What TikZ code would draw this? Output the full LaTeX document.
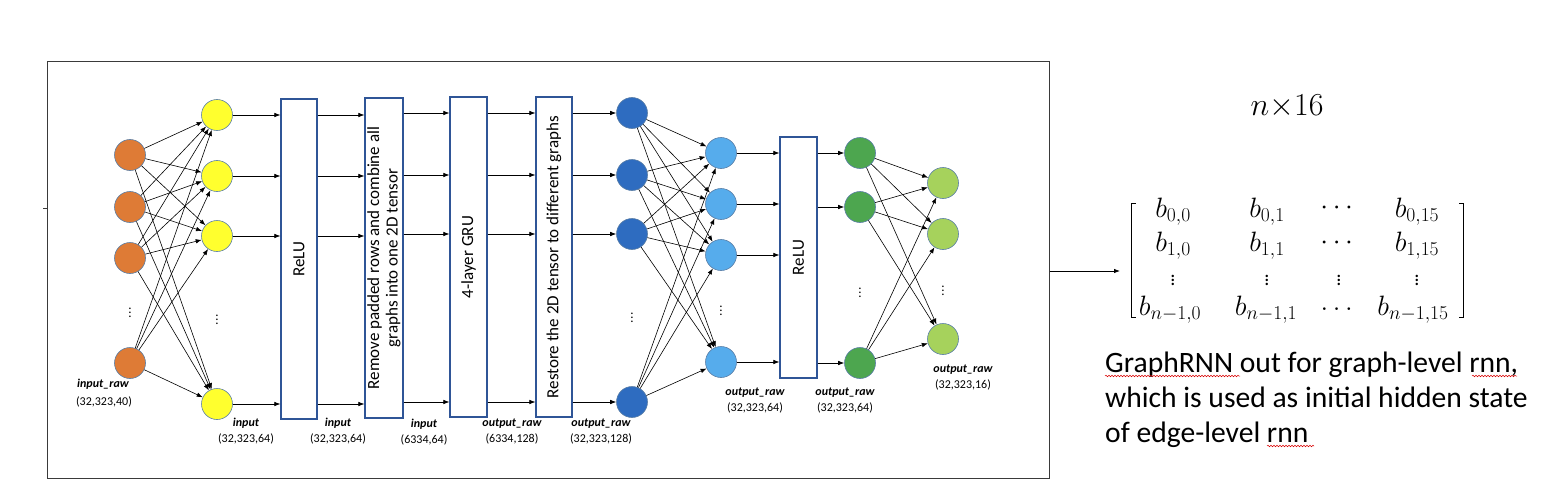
\RequirePackage{fix-cm}
\documentclass[tikz,border=0pt]{standalone}
\usepackage{fontspec}
\setmainfont{Carlito}
\usepackage{amsmath}
\usetikzlibrary{arrows.meta,decorations.pathmorphing}
\definecolor{corange}{HTML}{DE7B36}
\definecolor{cyellow}{HTML}{FFFF2E}
\definecolor{cdblue}{HTML}{2E6CC0}
\definecolor{clblue}{HTML}{56ACEC}
\definecolor{cgreen}{HTML}{4DA64F}
\definecolor{clgreen}{HTML}{A6D25C}
\definecolor{nborder}{HTML}{5A7EA6}
\definecolor{boxblue}{HTML}{2F5597}
\definecolor{framegray}{HTML}{3A3A3A}
\tikzset{
  neuron/.style={circle, minimum size=31pt, inner sep=0pt, draw=nborder, line width=0.6pt},
  layerbox/.style={draw=boxblue, line width=1.3pt, fill=white, inner sep=0pt, minimum width=36pt},
  conn/.style={-{Latex[length=6pt,width=4.5pt]}, line width=0.6pt, black},
  vdots/.style={inner sep=0pt, font=\fontsize{13}{13}\selectfont},
  lblname/.style={inner sep=0pt, font=\fontsize{12}{14}\selectfont\bfseries\itshape},
  lbldim/.style={inner sep=0pt, font=\fontsize{12}{14}\selectfont},
  boxtext/.style={rotate=90, align=center, font=\fontsize{17}{18.5}\selectfont},
  entry/.style={inner sep=0pt, font=\fontsize{28}{30}\selectfont},
  mdots/.style={inner sep=0pt, font=\fontsize{20}{22}\selectfont},
  bigtext/.style={inner sep=0pt, anchor=base west, font=\fontsize{29.6}{35}\selectfont},
  squiggle/.style={red!85!black, line width=0.5pt, decorate, decoration={snake, amplitude=0.8pt, segment length=3pt}}
}
\begin{document}
\begin{tikzpicture}[x=1pt,y=-1pt]
\useasboundingbox (0,0) rectangle (1548,503);
% frame
\node (frame) [draw=framegray, line width=1pt, minimum width=1002pt, minimum height=416pt, inner sep=0pt] at (548,270) {};
\draw[framegray, line width=1pt] (frame.west |- 0,208) -- ++(-4,0);

% orange input nodes
\node[neuron, fill=corange] (o1) at (130,155) {};
\node[neuron, fill=corange] (o2) at (130,207) {};
\node[neuron, fill=corange] (o3) at (130,258) {};
\node[vdots] (od) at (130,310) {$\vdots$};
\node[neuron, fill=corange] (o4) at (130,363) {};
% yellow
\node[neuron, fill=cyellow] (y1) at (217,115) {};
\node[neuron, fill=cyellow] (y2) at (217,176) {};
\node[neuron, fill=cyellow] (y3) at (217,236) {};
\node[vdots] (yd) at (217,317) {$\vdots$};
\node[neuron, fill=cyellow] (y4) at (217,404) {};
\foreach \a in {o1,o2,o3,o4}
  \foreach \b in {y1,y2,y3,y4}
    \draw[conn] (\a) -- (\b);

% boxes
\node[layerbox, minimum height=320pt] (box1) at (299,259) {};
\node[boxtext] at (box1) {ReLU};
\node[layerbox, minimum width=38pt, minimum height=320pt] (box2) at (384,258) {};
\node[boxtext] at (box2) {Remove padded rows and combine all\\graphs into one 2D tensor};
\node[layerbox, minimum width=37pt, minimum height=320pt] (box3) at (468.5,257) {};
\node[boxtext] at (box3) {4-layer GRU};
\node[layerbox, minimum height=320pt] (box4) at (554,257) {};
\node[boxtext] at (box4) {Restore the 2D tensor to different graphs};

% dark blue
\node[neuron, fill=cdblue] (b1) at (632,113) {};
\node[neuron, fill=cdblue] (b2) at (632,175) {};
\node[neuron, fill=cdblue] (b3) at (632,234) {};
\node[vdots] (bd) at (632,315) {$\vdots$};
\node[neuron, fill=cdblue] (b4) at (632,402) {};

\foreach \r in {y1,y2,y3,y4} {
  \draw[conn] (\r) -- (\r -| box1.west);
  \draw[conn] (\r -| box1.east) -- (\r -| box2.west);
}
\foreach \r in {b1,b2,b3,b4} {
  \draw[conn] (\r -| box2.east) -- (\r -| box3.west);
  \draw[conn] (\r -| box3.east) -- (\r -| box4.west);
  \draw[conn] (\r -| box4.east) -- (\r);
}

% light blue
\node[neuron, fill=clblue] (l1) at (721,153) {};
\node[neuron, fill=clblue] (l2) at (721,204) {};
\node[neuron, fill=clblue] (l3) at (721,255) {};
\node[vdots] (ld) at (721,308) {$\vdots$};
\node[neuron, fill=clblue] (l4) at (721,362) {};
\foreach \a in {b1,b2,b3,b4}
  \foreach \b in {l1,l2,l3,l4}
    \draw[conn] (\a) -- (\b);

% relu 2
\node[layerbox, minimum width=37pt, minimum height=241pt] (box5) at (798.5,257.5) {};
\node[boxtext] at (box5) {ReLU};
\foreach \r in {l1,l2,l3,l4}
  \draw[conn] (\r) -- (\r -| box5.west);

% green
\node[neuron, fill=cgreen] (g1) at (860,153) {};
\node[neuron, fill=cgreen] (g2) at (860,207) {};
\node[vdots] (gd) at (860,290) {$\vdots$};
\node[neuron, fill=cgreen] (g3) at (860,363) {};
\foreach \r in {g1,g2,g3}
  \draw[conn] (\r -| box5.east) -- (\r);

% light green
\node[neuron, fill=clgreen] (h1) at (943,183) {};
\node[neuron, fill=clgreen] (h2) at (943,234) {};
\node[vdots] (hd) at (943,288) {$\vdots$};
\node[neuron, fill=clgreen] (h3) at (943,339) {};
\foreach \a in {g1,g2,g3}
  \foreach \b in {h1,h2,h3}
    \draw[conn] (\a) -- (\b);

% labels
\node[lblname] (n1) at (103,384) {input\_raw};
\node[lbldim] (d1) at (104,402) {(32,323,40)};
\node[lblname] (n2) at (246,423) {input};
\node[lbldim] (d2) at (246,439) {(32,323,64)};
\node[lblname] (n3) at (338,423) {input};
\node[lbldim] (d3) at (338,439) {(32,323,64)};
\node[lblname] (n4) at (424,424) {input};
\node[lbldim] (d4) at (424,440) {(6334,64)};
\node[lblname] (n5) at (512,424) {output\_raw};
\node[lbldim] (d5) at (512,439) {(6334,128)};
\node[lblname] (n6) at (601,424) {output\_raw};
\node[lbldim] (d6) at (601,439) {(32,323,128)};
\node[lblname] (n7) at (755,393) {output\_raw};
\node[lbldim] (d7) at (755,408) {(32,323,64)};
\node[lblname] (n8) at (845,393) {output\_raw};
\node[lbldim] (d8) at (845,408) {(32,323,64)};
\node[lblname] (n9) at (963,370) {output\_raw};
\node[lbldim] (d9) at (963,385) {(32,323,16)};

% right side
\node[entry, font=\fontsize{32}{34}\selectfont] (dim) at (1287,107) {$n{\times}16$};
\node[entry] (m00) at (1173,212) {$b_{0,0}$};
\node[entry] (m01) at (1267,212) {$b_{0,1}$};
\node[entry] (m02) at (1339,208) {$\cdots$};
\node[entry] (m03) at (1417,212) {$b_{0,15}$};
\node[entry] (m10) at (1173,246) {$b_{1,0}$};
\node[entry] (m11) at (1267,246) {$b_{1,1}$};
\node[entry] (m12) at (1339,243) {$\cdots$};
\node[entry] (m13) at (1417,246) {$b_{1,15}$};
\node[mdots] (m20) at (1173,277) {$\vdots$};
\node[mdots] (m21) at (1267,277) {$\vdots$};
\node[mdots] (m22) at (1339,277) {$\vdots$};
\node[mdots] (m23) at (1417,277) {$\vdots$};
\node[entry] (m30) at (1170,310) {$b_{n-1,0}$};
\node[entry] (m31) at (1266,310) {$b_{n-1,1}$};
\node[entry] (m32) at (1339,309) {$\dots$};
\node[entry] (m33) at (1413,310) {$b_{n-1,15}$};
\node (mat) [inner sep=0pt, minimum width=331pt, minimum height=113pt] at (1297.5,260.5) {};
\draw[line width=1pt] ([xshift=4pt]mat.north west) -- (mat.north west) -- (mat.south west) -- ++(4,0);
\draw[line width=1pt] ([xshift=-4pt]mat.north east) -- (mat.north east) -- (mat.south east) -- ++(-4,0);
\coordinate (aend) at (1120,271);
\draw[conn, line width=0.8pt] (frame.east |- aend) -- (aend);

\node[bigtext] (t1) at (1105,372) {GraphRNN out for graph-level rnn,};
\node[bigtext] (t2) at (1105,407) {which is used as initial hidden state};
\node[bigtext] (t3) at (1105,442) {of edge-level rnn};
\draw[squiggle] (1105,376) -- (1240,376);
\draw[squiggle] (1472,376) -- (1517,376);
\draw[squiggle] (1267,446) -- (1314,446);
\end{tikzpicture}
\end{document}
